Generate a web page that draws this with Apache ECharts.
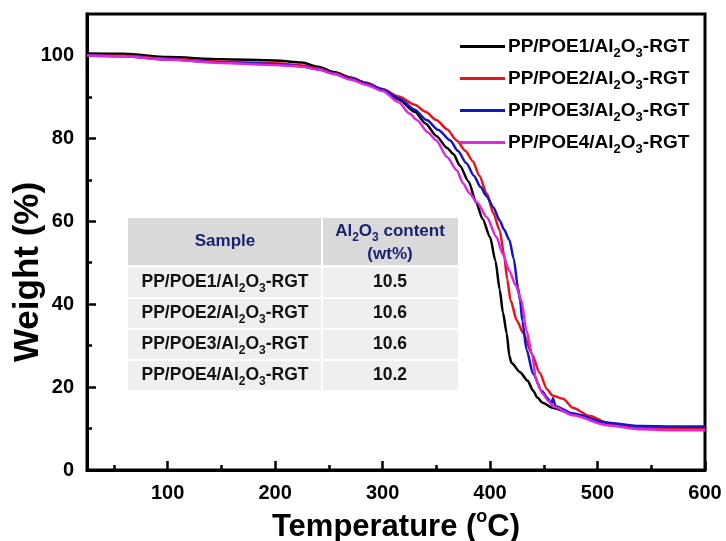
<!DOCTYPE html>
<html>
<head>
<meta charset="utf-8">
<script src="https://cdn.jsdelivr.net/npm/echarts@6/dist/echarts.min.js"></script>
<style>
html, body { margin: 0; padding: 0; background: #fff; }
#chart { width: 726px; height: 541px; }
</style>
</head>
<body>
<div id="chart"></div>
<script>
// sample names (legend + table)
const names = ['PP/POE1/Al2O3-RGT', 'PP/POE2/Al2O3-RGT', 'PP/POE3/Al2O3-RGT', 'PP/POE4/Al2O3-RGT'];
const colors = ['#000000', '#e4161c', '#1414c8', '#e026e0'];

// TGA curves, [temperature °C, weight %]
const pp1 = [[25,100.5],[60,100.4],[100,99.6],[150,99.1],[200,98.8],[225,98.3],[240,97.3],[255,96],[270,94.7],[285,93.4],[300,91.7],[315,89.4],[330,86.4],[340,83.6],[350,80.6],[360,77.7],[366,76.2],[372,73.4],[380,69.6],[387,64.6],[393,60.6],[400,56.2],[405,50.5],[409,43.5],[412,38],[415.5,33],[418,27.5],[420,25.8],[428,23.6],[435,21.5],[440,19.2],[444,17.5],[449,16.2],[458,15],[477,13.5],[500,11.8],[520,10.8],[540,10.4],[570,10.3],[600,10.3]];
const pp2 = [[25,100],[60,99.9],[100,99.2],[150,98.5],[200,98.1],[225,97.6],[240,96.9],[255,95.7],[270,94.5],[285,93.3],[300,91.9],[315,90.1],[330,88.1],[340,86.4],[350,84.4],[360,82.2],[369,79.5],[377,77],[384,74.5],[390,71],[397,66.7],[403,62],[409,57.8],[413,52],[416,46],[419,41],[425,36],[431,33],[439,28],[446,23.5],[453,19.5],[458,18],[468,17.2],[477,15],[493,13],[509,11.4],[527,10.4],[550,10.1],[600,9.9]];
const pp3 = [[25,100],[60,99.8],[100,99],[150,98.3],[200,97.9],[225,97.4],[240,96.7],[255,95.6],[270,94.4],[285,93.2],[300,91.8],[315,89.7],[330,86.9],[341,84.4],[352,82],[363,79.5],[370,77],[378,74],[385,71],[391,68.3],[397,66],[403,63.4],[409,60.2],[413,58],[418,55.5],[422,51],[426,44],[428,40.9],[430,36],[434,29],[440,23.2],[448,19.1],[454,17.2],[457,15.9],[458.5,17.3],[461,15.4],[477,13.6],[509,11.4],[540,10.6],[570,10.5],[600,10.5]];
const pp4 = [[25,100],[60,99.8],[100,99],[150,98.2],[200,97.7],[225,97.3],[240,96.6],[255,95.5],[270,94.2],[285,92.9],[300,91.4],[315,88.7],[325,86],[332,84.4],[342,81.5],[350,79.5],[360,75.5],[369,72.3],[375,69.1],[381,66.7],[388,64.5],[397,61],[406,56.2],[412,52],[418,48],[424,44.5],[429,41],[434,33.6],[439,28],[443,21.5],[449,18.4],[454,16.7],[459,15.3],[477,13.2],[509,10.8],[540,9.8],[570,9.6],[600,9.6]];
const curves = [pp1, pp2, pp3, pp4];

// tick positions
const xMajor = [100, 200, 300, 400, 500, 600];
const xMinor = [50, 150, 250, 350, 450, 550];
const yMajor = [0, 20, 40, 60, 80, 100];
const yMinor = [10, 30, 50, 70, 90];

// inset table
const tableHead = ['Sample', 'Al2O3 content\n(wt%)'];
const tableContent = ['10.5', '10.6', '10.6', '10.2'];

const FONT = '"Liberation Sans", Arial, sans-serif';
const chem = s => s.replace('Al2O3', 'Al{sub|2}O{sub|3}');

const chart = echarts.init(document.getElementById('chart'));

// table drawn as graphic
const tbl = { left: 128, mid: 322, right: 458, headTop: 218, headH: 47, rowTop: 268, rowH: 31 };
const tblRich = (size) => ({ sub: { fontSize: size, fontWeight: 'bold', fontFamily: FONT, verticalAlign: 'bottom', lineHeight: 25 } });
const graphics = [];
graphics.push({ type: 'rect', shape: { x: tbl.left, y: tbl.headTop, width: tbl.mid - tbl.left - 1, height: tbl.headH }, style: { fill: '#d9d9d9' } });
graphics.push({ type: 'rect', shape: { x: tbl.mid + 1, y: tbl.headTop, width: tbl.right - tbl.mid - 1, height: tbl.headH }, style: { fill: '#d9d9d9' } });
graphics.push({ type: 'text', x: (tbl.left + tbl.mid) / 2, y: tbl.headTop + tbl.headH / 2,
  style: { text: tableHead[0], fill: '#1c2272', font: 'bold 17px ' + FONT, align: 'center', verticalAlign: 'middle' } });
graphics.push({ type: 'text', x: (tbl.mid + tbl.right) / 2, y: tbl.headTop + tbl.headH / 2,
  style: { text: chem(tableHead[1]), fill: '#1c2272', font: 'bold 17px ' + FONT, lineHeight: 21, align: 'center', verticalAlign: 'middle', rich: tblRich(12) } });
names.forEach((n, i) => {
  const y = tbl.rowTop + i * tbl.rowH;
  graphics.push({ type: 'rect', shape: { x: tbl.left, y: y, width: tbl.mid - tbl.left - 1, height: tbl.rowH - 2 }, style: { fill: '#efefef' } });
  graphics.push({ type: 'rect', shape: { x: tbl.mid + 1, y: y, width: tbl.right - tbl.mid - 1, height: tbl.rowH - 2 }, style: { fill: '#efefef' } });
  graphics.push({ type: 'text', x: (tbl.left + tbl.mid) / 2, y: y + tbl.rowH / 2 - 1,
    style: { text: chem(n), fill: '#111', font: 'bold 17.5px ' + FONT, align: 'center', verticalAlign: 'middle', rich: tblRich(12) } });
  graphics.push({ type: 'text', x: (tbl.mid + tbl.right) / 2, y: y + tbl.rowH / 2 - 1,
    style: { text: tableContent[i], fill: '#111', font: 'bold 17.5px ' + FONT, align: 'center', verticalAlign: 'middle' } });
});

const tickLabel = { fontSize: 20, fontWeight: 'bold', color: '#000', fontFamily: FONT };

const option = {
  backgroundColor: '#fff',
  animation: false,
  grid: { left: 87, right: 21, top: 14, bottom: 71, show: true, borderColor: '#000', borderWidth: 3, containLabel: false, outerBoundsMode: 'none' },
  legend: {
    orient: 'vertical', left: 455, top: 32, icon: 'rect', itemWidth: 45, itemHeight: 3, itemGap: 9,
    data: names,
    formatter: chem,
    textStyle: { fontSize: 19, fontWeight: 'bold', color: '#000', fontFamily: FONT, padding: [0, 0, 0, -2],
      rich: { sub: { fontSize: 13, fontWeight: 'bold', color: '#000', fontFamily: FONT, verticalAlign: 'bottom', lineHeight: 27 } } }
  },
  xAxis: [{
    type: 'value', min: 25, max: 600, position: 'bottom',
    axisLine: { onZero: false, lineStyle: { color: '#000', width: 3 } },
    axisTick: { inside: true, length: 9, customValues: xMajor, lineStyle: { color: '#000', width: 2.5 } },
    axisLabel: Object.assign({ customValues: xMajor, margin: 13 }, tickLabel),
    splitLine: { show: false },
    name: 'Temperature ({sup|o}C)', nameLocation: 'middle', nameGap: 38, nameMoveOverlap: false,
    nameTextStyle: { fontSize: 31, fontWeight: 'bold', color: '#000', fontFamily: FONT,
      rich: { sup: { fontSize: 18, fontWeight: 'bold', color: '#000', fontFamily: FONT, verticalAlign: 'top', lineHeight: 38 } } }
  }, {
    type: 'value', min: 25, max: 600, position: 'bottom',
    axisLine: { show: false, onZero: false },
    axisTick: { inside: true, length: 5, customValues: xMinor, lineStyle: { color: '#000', width: 2.5 } },
    axisLabel: { show: false }, splitLine: { show: false }
  }],
  yAxis: [{
    type: 'value', min: 0, max: 110, position: 'left',
    axisLine: { onZero: false, lineStyle: { color: '#000', width: 3 } },
    axisTick: { inside: true, length: 9, customValues: yMajor, lineStyle: { color: '#000', width: 2.5 } },
    axisLabel: Object.assign({ customValues: yMajor, margin: 13 }, tickLabel),
    splitLine: { show: false },
    name: 'Weight (%)', nameLocation: 'middle', nameGap: 41, nameMoveOverlap: false,
    nameTextStyle: { fontSize: 35, fontWeight: 'bold', color: '#000', fontFamily: FONT, padding: [0, 60, 0, 0] }
  }, {
    type: 'value', min: 0, max: 110, position: 'left',
    axisLine: { show: false, onZero: false },
    axisTick: { inside: true, length: 5, customValues: yMinor, lineStyle: { color: '#000', width: 2.5 } },
    axisLabel: { show: false }, splitLine: { show: false }
  }],
  series: curves.map((c, i) => ({
    name: names[i], type: 'line', data: c, showSymbol: false, symbol: 'none',
    smooth: 0.25, smoothMonotone: 'x',
    lineStyle: { color: colors[i], width: 2.5 }, itemStyle: { color: colors[i] }
  })),
  graphic: graphics
};

chart.setOption(option);
</script>
</body>
</html>
